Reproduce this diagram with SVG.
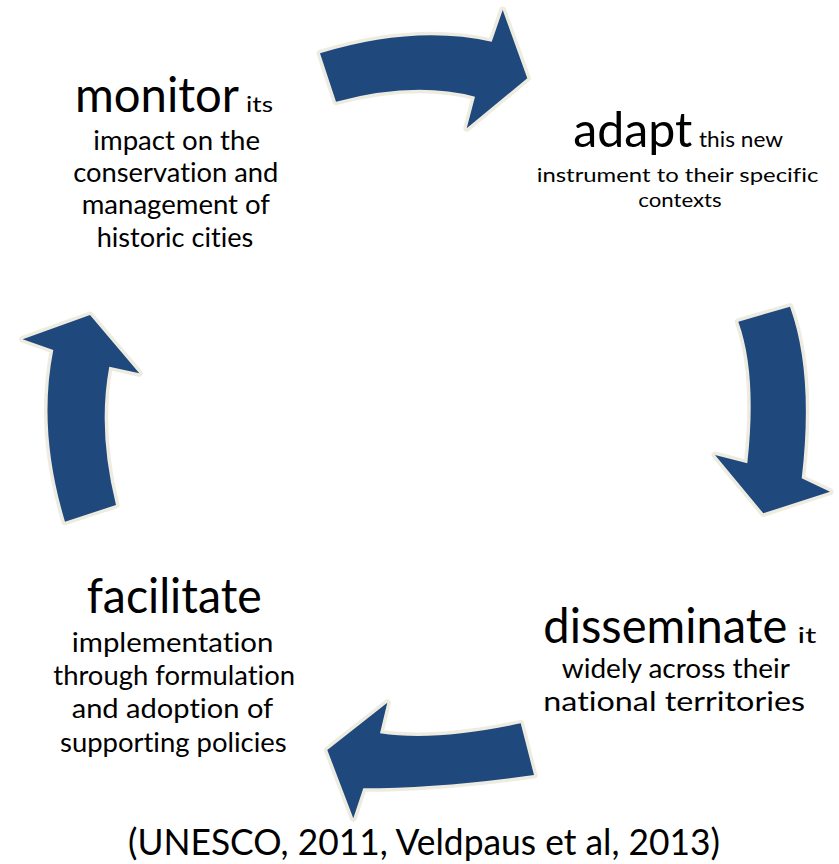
<svg xmlns="http://www.w3.org/2000/svg" width="839" height="864" viewBox="0 0 839 864">
<style>
.arrow{fill:#1F497D;stroke:#EEECE1;stroke-width:7;stroke-linejoin:round;paint-order:stroke}
text{font-family:Lato,"Open Sans","Liberation Sans",sans-serif;fill:#000;font-variant-ligatures:none}
.big{font-size:48px}
.small{font-size:22px}
.tight{font-size:20px}
.body{font-size:26px}
.cite{font-size:37px}
</style>
<rect width="839" height="864" fill="#fff"/>
<g id="connectors">
<path class="arrow" d="M320,53.3 Q414,24.5 491.7,41.7 L502.7,10 L527.3,78.3 L466.7,128.3 L475,96.7 Q414.5,80.8 336,101.7 Z"/>
<path class="arrow" d="M738.3,321.7 L790,306.7 Q814,373.5 801.7,478.3 L830,491.7 L763.3,513.3 L715,455 L747.3,463.3 Q757.2,374 738.3,321.7 Z"/>
<path class="arrow" d="M520.7,723.3 L534,775 Q438,788.3 363.3,788.3 L353.3,818.3 L327.3,750 L387.3,702.7 L380,733.3 Q436.2,741.7 520.7,723.3 Z"/>
<path class="arrow" d="M65,521.7 L116,505 Q97.4,430.2 109.3,366.7 L139.3,373.3 L90,315 L22.7,339.3 L53.3,350 Q37.4,430.2 65,521.7 Z"/>
</g>
<g id="monitor">
<text class="big" x="75" y="111.7" textLength="164" lengthAdjust="spacingAndGlyphs">monitor</text>
<text class="small" x="246" y="111.7" textLength="27" lengthAdjust="spacingAndGlyphs">its</text>
<text class="body" x="93.3" y="150" textLength="166.7" lengthAdjust="spacingAndGlyphs">impact on the</text>
<text class="body" x="73.3" y="181.7" textLength="205" lengthAdjust="spacingAndGlyphs">conservation and</text>
<text class="body" x="81.7" y="214" textLength="188.3" lengthAdjust="spacingAndGlyphs">management of</text>
<text class="body" x="96.7" y="246.7" textLength="156.6" lengthAdjust="spacingAndGlyphs">historic cities</text>
</g>
<g id="adapt">
<text class="big" x="573.3" y="146.7" textLength="119" lengthAdjust="spacingAndGlyphs">adapt</text>
<text class="small" x="699" y="146.7" textLength="84" lengthAdjust="spacingAndGlyphs">this new</text>
<text class="tight" x="536.7" y="182.3" textLength="281.6" lengthAdjust="spacingAndGlyphs">instrument to their specific</text>
<text class="tight" x="638.3" y="206.5" textLength="83.4" lengthAdjust="spacingAndGlyphs">contexts</text>
</g>
<g id="disseminate">
<text class="big" x="543.3" y="643.3" textLength="244" lengthAdjust="spacingAndGlyphs">disseminate</text>
<text class="small" x="797.5" y="643.3" textLength="19" lengthAdjust="spacingAndGlyphs">it</text>
<text class="body" x="561.7" y="678.3" textLength="228.3" lengthAdjust="spacingAndGlyphs">widely across their</text>
<text class="body" x="543.3" y="711" textLength="261.7" lengthAdjust="spacingAndGlyphs">national territories</text>
</g>
<g id="facilitate">
<text class="big" x="86.7" y="613.3" textLength="175" lengthAdjust="spacingAndGlyphs">facilitate</text>
<text class="body" x="71.7" y="651.7" textLength="201.6" lengthAdjust="spacingAndGlyphs">implementation</text>
<text class="body" x="53.3" y="685" textLength="241.7" lengthAdjust="spacingAndGlyphs">through formulation</text>
<text class="body" x="71.7" y="718.3" textLength="201.6" lengthAdjust="spacingAndGlyphs">and adoption of</text>
<text class="body" x="60" y="751.7" textLength="226.7" lengthAdjust="spacingAndGlyphs">supporting policies</text>
</g>
<g id="citation">
<text class="cite" x="128" y="855" textLength="592" lengthAdjust="spacingAndGlyphs">(UNESCO, 2011, Veldpaus et al, 2013)</text>
</g>
</svg>
